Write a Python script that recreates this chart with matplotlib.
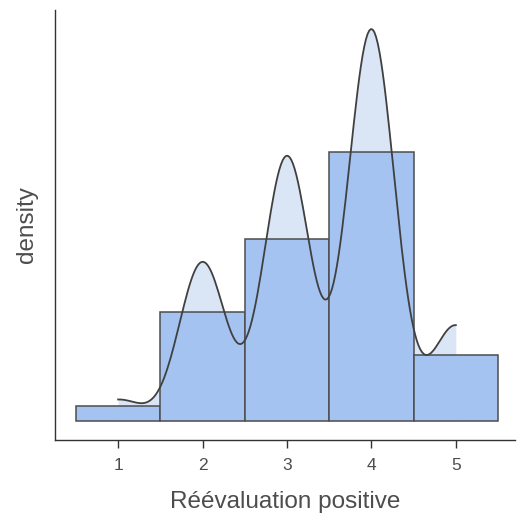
import numpy as np
import matplotlib
matplotlib.use("Agg")
import matplotlib.pyplot as plt
import seaborn as sns

# responses on a 1-5 scale, counts per value
scores = [1, 2, 3, 4, 5]
counts = [2, 15, 25, 37, 9]

plt.rcParams['font.family'] = ['Liberation Sans', 'DejaVu Sans']

data = np.repeat(scores, counts)
n = len(data)
props = np.array(counts) / n

# R's bw.nrd0 rule of thumb, as ggplot's geom_density uses
q1, q3 = np.percentile(data, [25, 75])
sd = np.std(data, ddof=1)
bw = 0.9 * min(sd, (q3 - q1) / 1.34) * n ** -0.2
factor = bw / sd

fig = plt.figure(figsize=(5.17, 5.23), dpi=100)
ax = fig.add_axes([0.106, 0.159, 0.89, 0.822])

sns.kdeplot(x=data, bw_method=factor, cut=0, fill=True, color="#dae5f6",
            alpha=1, linewidth=0, ax=ax, zorder=1)
ax.bar(scores, props, width=1.0, color="#a4c3f0", edgecolor="#4d4d4d",
       linewidth=1.1, zorder=2)
sns.kdeplot(x=data, bw_method=factor, cut=0, color="#404040",
            linewidth=1.3, ax=ax, zorder=3)

ax.set_xlim(0.25, 5.7)
ax.set_ylim(-0.0297, 0.642)
ax.set_xticks(scores)
ax.set_xticklabels([str(s) for s in scores])
ax.set_yticks([])
ax.tick_params(axis='x', length=6, width=1, color="#333333", labelsize=12.5,
               labelcolor="#4d4d4d", pad=7)
for s in ["top", "right"]:
    ax.spines[s].set_visible(False)
for s in ["left", "bottom"]:
    ax.spines[s].set_color("#333333")
    ax.spines[s].set_linewidth(1)
ax.set_xlabel("Réévaluation positive", fontsize=17.5, color="#4d4d4d", labelpad=13)
ax.set_ylabel("density", fontsize=17.5, color="#4d4d4d", labelpad=12)

fig.savefig("out.png", dpi=100)
